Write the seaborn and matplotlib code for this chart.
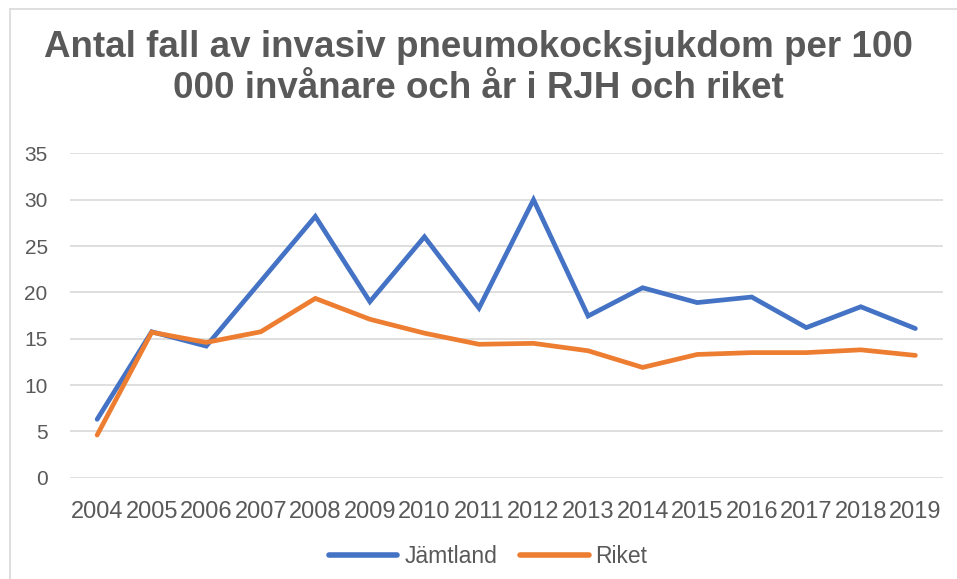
import pandas as pd
import matplotlib.pyplot as plt
import seaborn as sns
from matplotlib.lines import Line2D

# Data
ar = [str(a) for a in range(2004, 2020)]
jamtland = [6.3, 15.75, 14.2, 21.2, 28.2, 19.0, 26.0, 18.3, 30.0, 17.45, 20.5, 18.9, 19.5, 16.2, 18.45, 16.1]
riket = [4.6, 15.7, 14.6, 15.75, 19.35, 17.1, 15.6, 14.4, 14.5, 13.7, 11.9, 13.3, 13.5, 13.5, 13.8, 13.2]
serier = ['Jämtland', 'Riket']
farger = ['#4472C4', '#ED7D31']
titel = 'Antal fall av invasiv pneumokocksjukdom per 100\n000 invånare och år i RJH och riket'

df = pd.DataFrame({'ar': ar * 2,
                   'varde': jamtland + riket,
                   'serie': [serier[0]] * len(ar) + [serier[1]] * len(ar)})

sns.set_theme(style="whitegrid")
plt.rcParams['font.family'] = ['Liberation Sans', 'DejaVu Sans']

fig = plt.figure(figsize=(9.57, 5.79), dpi=100)
ax = fig.add_axes([0.073, 0.175, 0.912, 0.560])

sns.lineplot(data=df, x='ar', y='varde', hue='serie', palette=farger,
             linewidth=3.4, ax=ax, legend=False, sort=False)
for l in ax.lines:
    l.set_solid_capstyle('round')
    l.set_solid_joinstyle('miter')

ax.set_xlim(-0.5, len(ar) - 0.5)
ax.set_ylim(0, 35)
ax.set_yticks(range(0, 36, 5))
ax.set_xlabel('')
ax.set_ylabel('')
ax.grid(axis='x', visible=False)
ax.grid(axis='y', color='#d9d9d9', linewidth=1.2)
for s in ax.spines.values():
    s.set_visible(False)
ax.tick_params(axis='both', length=0, colors='#595959')
ax.tick_params(axis='y', labelsize=15, pad=16)
ax.tick_params(axis='x', labelsize=17, pad=17)
ax.set_facecolor('white')

fig.text(0.5, 0.882, titel, ha='center', va='center', fontsize=26.5,
         fontweight='bold', color='#595959', linespacing=1.22)

handles = [Line2D([0], [0], color=c, linewidth=4, solid_capstyle='round') for c in farger]
fig.legend(handles, serier, loc='center', bbox_to_anchor=(0.51, 0.038), ncol=2,
           frameon=False, fontsize=16.5, handlelength=3.0, columnspacing=1.0,
           handletextpad=0.3, labelcolor='#595959')

# ram runt diagrammet
fig.add_artist(Line2D([10 / 957, 1], [1 - 9 / 579, 1 - 9 / 579], color='#d9d9d9', linewidth=1.2))
fig.add_artist(Line2D([10 / 957, 10 / 957], [0, 1 - 9 / 579], color='#d9d9d9', linewidth=1.2))

fig.savefig('out.png', dpi=100, facecolor='white')
